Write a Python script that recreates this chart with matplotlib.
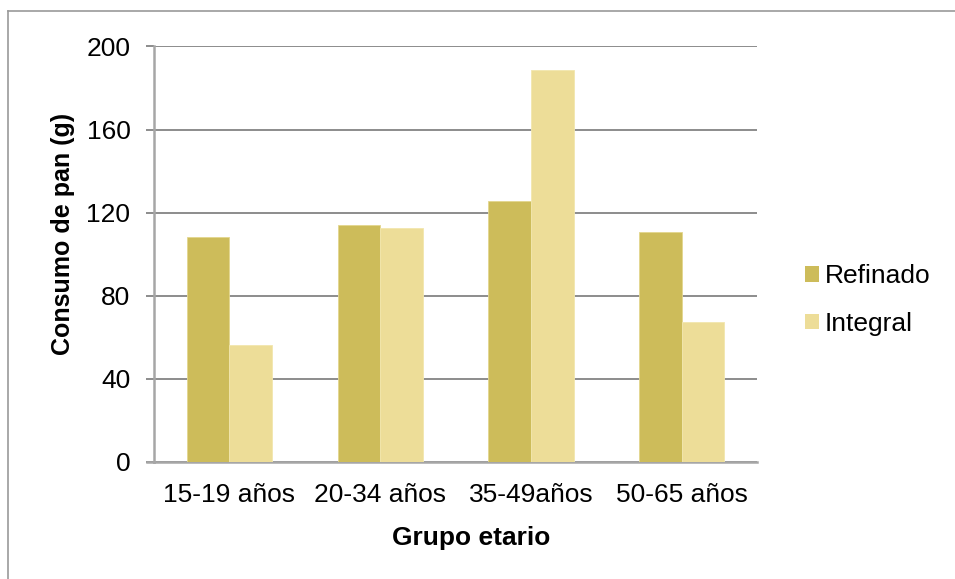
import matplotlib
matplotlib.use('Agg')
import matplotlib.pyplot as plt
import numpy as np
from matplotlib.lines import Line2D
from matplotlib.patches import Patch

plt.rcParams['font.family'] = ['Liberation Sans', 'DejaVu Sans']

grupos = ['15-19 años', '20-34 años', '35-49años', '50-65 años']
refinado = [108.4, 114.0, 125.4, 110.8]
integral = [56.2, 112.8, 188.8, 67.2]
y_ticks = [0, 40, 80, 120, 160, 200]

color_refinado = '#CDBC5A'
color_integral = '#EDDD98'
grid_color = '#8C8C8C'
axis_color = '#A6A6A6'

fig = plt.figure(figsize=(9.55, 5.79), dpi=100)
ax = fig.add_axes([0.1613, 0.2026, 0.6314, 0.7171])

x = np.arange(len(grupos))
width = 0.283
ax.bar(x - width / 2, refinado, width, color=color_refinado,
       edgecolor='#E3D68E', linewidth=0.6, zorder=3, label='Refinado')
ax.bar(x + width / 2, integral, width, color=color_integral,
       edgecolor='#F2E6AE', linewidth=0.6, zorder=3, label='Integral')

ax.set_xlim(-0.5, len(grupos) - 0.5)
ax.set_ylim(0, 200)
ax.set_yticks(y_ticks)
ax.set_xticks(x)
ax.set_xticklabels(grupos)

ax.yaxis.grid(True, color=grid_color, linewidth=1.4, zorder=0)
ax.set_axisbelow(True)
for side in ('top', 'right'):
    ax.spines[side].set_visible(False)
ax.spines['left'].set_color(axis_color)
ax.spines['left'].set_linewidth(1.8)
ax.spines['bottom'].set_color(axis_color)
ax.spines['bottom'].set_linewidth(1.8)

ax.tick_params(axis='y', length=6, width=1.4, color=grid_color,
               labelsize=19, pad=11)
ax.tick_params(axis='x', length=0, labelsize=19, pad=15)

# extend the baseline a little to the left, like the tick marks
ax.add_line(Line2D([-0.55, -0.5], [0, 0], transform=ax.transData,
                   color=axis_color, linewidth=1.8, clip_on=False))

fig.text(63 / 955, 1 - 234 / 579, 'Consumo de pan (g)', rotation=90,
         ha='center', va='center', fontsize=18, fontweight='bold')
fig.text(471 / 955, 1 - 538 / 579, 'Grupo etario',
         ha='center', va='center', fontsize=19, fontweight='bold')

handles = [Patch(facecolor=color_refinado, edgecolor='none'),
           Patch(facecolor=color_integral, edgecolor='none')]
fig.legend(handles, ['Refinado', 'Integral'], loc='center left',
           bbox_to_anchor=(781 / 955, 1 - 300 / 579), frameon=False,
           fontsize=19, handlelength=0.53, handleheight=0.53,
           handletextpad=0.23, labelspacing=0.9)

# outer frame of the chart area (top and left edges)
fig.add_artist(Line2D([8 / 955, 1.0], [1 - 11 / 579, 1 - 11 / 579],
                      transform=fig.transFigure, color='#9A9A9A', linewidth=1.2))
fig.add_artist(Line2D([8 / 955, 8 / 955], [0.0, 1 - 11 / 579],
                      transform=fig.transFigure, color='#9A9A9A', linewidth=1.2))

fig.savefig('out.png', dpi=100)
